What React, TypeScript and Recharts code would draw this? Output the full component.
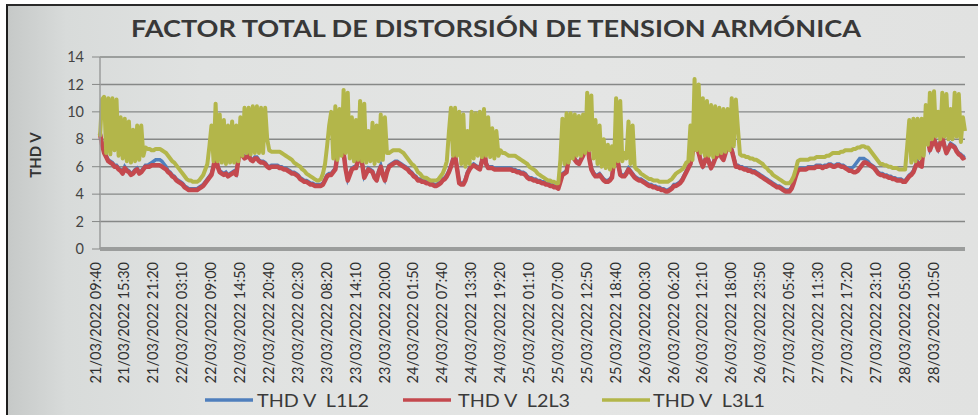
import React from 'react';
import { LineChart, Line, XAxis, YAxis, CartesianGrid } from 'recharts';

// Sampling: one point every 25 minutes starting 21/03/2022 09:40
const START_DAY = 21;
const START_MINUTE = 9 * 60 + 40;
const STEP_MINUTES = 25;
const LABEL_EVERY = 14; // one label every 5h50

const SERIES_NAMES = ['THD V  L1L2', 'THD V  L2L3', 'THD V  L3L1'];
const Y_TICKS = [0, 2, 4, 6, 8, 10, 12, 14];
const TITLE = 'FACTOR TOTAL DE DISTORSIÓN DE TENSION ARMÓNICA';
const Y_LABEL = 'THD V';

const L1L2 = [
  8.5, 7.7, 7.1, 6.8, 6.5, 6.4, 6.3, 6.1, 6.1, 5.9, 5.8, 5.6, 6.0, 5.8,
  5.7, 5.5, 5.6, 5.8, 5.9, 5.6, 5.7, 5.9, 6.1, 6.1, 6.2, 6.3, 6.4, 6.5,
  6.5, 6.5, 6.4, 6.2, 6.0, 5.7, 5.6, 5.4, 5.3, 5.1, 5.0, 4.9, 4.8, 4.6,
  4.5, 4.4, 4.4, 4.4, 4.4, 4.4, 4.5, 4.6, 4.7, 4.9, 5.1, 5.3, 5.5, 6.1,
  7.1, 6.1, 5.7, 5.6, 5.5, 5.6, 5.4, 5.5, 5.6, 5.7, 5.5, 6.6, 8.1, 6.9,
  6.7, 6.8, 6.9, 6.6, 6.5, 6.7, 6.7, 6.5, 6.4, 6.4, 6.3, 6.1, 6.0, 6.1,
  6.1, 6.1, 6.1, 6.0, 6.0, 5.9, 5.9, 5.8, 5.7, 5.6, 5.6, 5.5, 5.4, 5.2,
  5.1, 5.0, 5.0, 4.9, 4.8, 4.8, 4.7, 4.7, 4.7, 4.7, 4.8, 5.1, 5.4, 5.5,
  5.5, 5.7, 5.9, 6.9, 8.4, 7.7, 7.1, 5.9, 5.1, 5.5, 5.9, 6.0, 6.0, 6.6,
  7.9, 6.3, 5.3, 5.6, 5.9, 5.8, 5.7, 5.3, 5.1, 5.7, 6.1, 5.5, 5.1, 5.7,
  6.1, 6.2, 6.3, 6.4, 6.4, 6.3, 6.2, 6.1, 6.0, 5.9, 5.7, 5.6, 5.4, 5.3,
  5.1, 5.1, 5.0, 5.0, 4.9, 4.9, 4.8, 4.8, 4.7, 4.7, 4.8, 4.9, 5.1, 5.2,
  5.4, 5.7, 6.1, 6.6, 6.9, 5.9, 4.9, 4.8, 4.8, 5.1, 5.6, 5.9, 6.1, 6.2,
  6.1, 6.0, 5.9, 6.5, 7.4, 6.3, 6.0, 6.0, 6.0, 5.9, 5.9, 5.9, 5.9, 5.9,
  5.9, 5.9, 5.9, 5.9, 5.8, 5.8, 5.7, 5.7, 5.6, 5.6, 5.5, 5.3, 5.2, 5.2,
  5.1, 5.1, 5.0, 5.0, 4.9, 4.9, 4.8, 4.8, 4.7, 4.7, 4.6, 4.6, 4.5, 5.0,
  5.5, 5.6, 5.7, 6.7, 7.7, 7.0, 6.6, 6.4, 6.3, 6.6, 6.9, 7.3, 7.9, 6.7,
  5.9, 5.6, 5.4, 5.4, 5.5, 5.3, 5.1, 5.0, 5.0, 5.1, 5.3, 6.5, 7.9, 6.3,
  5.5, 5.4, 5.4, 5.6, 5.9, 5.7, 5.5, 5.3, 5.2, 5.1, 5.1, 5.0, 4.9, 4.8,
  4.7, 4.7, 4.6, 4.6, 4.5, 4.5, 4.4, 4.4, 4.3, 4.3, 4.4, 4.5, 4.7, 4.7,
  4.8, 4.9, 5.1, 5.4, 5.7, 6.0, 6.3, 7.1, 7.9, 7.5, 7.1, 6.5, 6.1, 6.5,
  6.9, 6.4, 6.0, 6.3, 6.7, 6.9, 7.1, 6.8, 6.6, 7.1, 7.6, 7.5, 7.3, 6.7,
  6.1, 6.1, 6.0, 6.0, 5.9, 5.9, 5.8, 5.8, 5.7, 5.7, 5.6, 5.5, 5.4, 5.3,
  5.2, 5.1, 5.0, 4.9, 4.8, 4.7, 4.6, 4.6, 4.5, 4.4, 4.3, 4.3, 4.3, 4.5,
  4.9, 5.4, 5.8, 5.9, 5.9, 5.9, 5.9, 6.0, 6.0, 6.0, 6.0, 6.1, 6.1, 6.1,
  6.0, 6.1, 6.1, 6.2, 6.2, 6.1, 6.1, 6.2, 6.2, 6.1, 6.1, 6.0, 5.9, 5.9,
  5.9, 6.0, 6.2, 6.4, 6.6, 6.6, 6.6, 6.5, 6.4, 6.2, 6.1, 6.0, 5.8, 5.6,
  5.5, 5.5, 5.4, 5.4, 5.3, 5.3, 5.2, 5.2, 5.1, 5.1, 5.1, 5.0, 5.0, 5.2,
  5.4, 5.5, 5.7, 6.1, 6.4, 6.2, 6.1, 7.6, 8.9, 8.1, 7.3, 7.7, 8.1, 7.7,
  7.3, 7.8, 8.2, 7.6, 7.1, 7.4, 7.7, 7.6, 7.5, 7.2, 7.0, 6.9, 6.7, 6.8,
];

const L2L3 = [
  8.4, 7.6, 7.0, 6.7, 6.4, 6.3, 6.2, 6.0, 6.0, 5.8, 5.7, 5.5, 5.9, 5.7,
  5.6, 5.4, 5.5, 5.7, 5.8, 5.5, 5.6, 5.8, 6.0, 6.0, 6.0, 6.1, 6.1, 6.1,
  6.1, 6.1, 6.0, 5.9, 5.8, 5.6, 5.5, 5.3, 5.2, 5.0, 4.9, 4.8, 4.7, 4.5,
  4.4, 4.3, 4.3, 4.3, 4.3, 4.3, 4.4, 4.5, 4.6, 4.8, 5.0, 5.2, 5.4, 6.0,
  7.0, 6.0, 5.6, 5.5, 5.4, 5.5, 5.3, 5.4, 5.5, 5.6, 5.4, 6.5, 8.0, 6.8,
  6.6, 6.7, 6.8, 6.5, 6.4, 6.6, 6.6, 6.4, 6.3, 6.3, 6.2, 6.0, 5.9, 6.0,
  6.0, 6.0, 6.0, 5.9, 5.9, 5.8, 5.8, 5.7, 5.6, 5.5, 5.5, 5.4, 5.3, 5.1,
  5.0, 4.9, 4.9, 4.8, 4.7, 4.7, 4.6, 4.6, 4.6, 4.6, 4.7, 5.0, 5.3, 5.4,
  5.4, 5.6, 5.8, 6.8, 8.3, 7.6, 7.0, 5.8, 5.0, 5.4, 5.8, 5.9, 5.9, 6.5,
  7.8, 6.2, 5.2, 5.5, 5.8, 5.7, 5.6, 5.2, 5.0, 5.6, 6.0, 5.4, 5.0, 5.6,
  6.0, 6.1, 6.2, 6.3, 6.3, 6.2, 6.1, 6.0, 5.9, 5.8, 5.6, 5.5, 5.3, 5.2,
  5.0, 5.0, 4.9, 4.9, 4.8, 4.8, 4.7, 4.7, 4.6, 4.6, 4.7, 4.8, 5.0, 5.1,
  5.3, 5.6, 6.0, 6.5, 6.8, 5.8, 4.8, 4.7, 4.7, 5.0, 5.5, 5.8, 6.0, 6.1,
  6.0, 5.9, 5.8, 6.4, 7.3, 6.2, 5.9, 5.9, 5.9, 5.8, 5.8, 5.8, 5.8, 5.8,
  5.8, 5.8, 5.8, 5.8, 5.7, 5.7, 5.6, 5.6, 5.5, 5.5, 5.4, 5.2, 5.1, 5.1,
  5.0, 5.0, 4.9, 4.9, 4.8, 4.8, 4.7, 4.7, 4.6, 4.6, 4.5, 4.5, 4.4, 4.9,
  5.4, 5.5, 5.6, 6.6, 7.6, 6.9, 6.5, 6.3, 6.2, 6.5, 6.8, 7.2, 7.8, 6.6,
  5.8, 5.5, 5.3, 5.3, 5.4, 5.2, 5.0, 4.9, 4.9, 5.0, 5.2, 6.4, 7.8, 6.2,
  5.4, 5.3, 5.3, 5.5, 5.8, 5.6, 5.4, 5.2, 5.1, 5.0, 5.0, 4.9, 4.8, 4.7,
  4.6, 4.6, 4.5, 4.5, 4.4, 4.4, 4.3, 4.3, 4.2, 4.2, 4.3, 4.4, 4.6, 4.6,
  4.7, 4.8, 5.0, 5.3, 5.6, 5.9, 6.2, 7.0, 7.8, 7.4, 7.0, 6.4, 6.0, 6.4,
  6.8, 6.3, 5.9, 6.2, 6.6, 6.8, 7.0, 6.7, 6.5, 7.0, 7.5, 7.4, 7.2, 6.6,
  6.0, 6.0, 5.9, 5.9, 5.8, 5.8, 5.7, 5.7, 5.6, 5.6, 5.5, 5.4, 5.3, 5.2,
  5.1, 5.0, 4.9, 4.8, 4.7, 4.6, 4.5, 4.5, 4.4, 4.3, 4.2, 4.2, 4.2, 4.4,
  4.8, 5.3, 5.7, 5.8, 5.8, 5.8, 5.8, 5.9, 5.9, 5.9, 5.9, 6.0, 6.0, 6.0,
  5.9, 6.0, 6.0, 6.1, 6.1, 6.0, 6.0, 6.1, 6.1, 6.0, 6.0, 5.9, 5.8, 5.7,
  5.7, 5.6, 5.6, 5.7, 5.9, 6.1, 6.3, 6.3, 6.2, 6.1, 6.0, 5.9, 5.7, 5.5,
  5.4, 5.4, 5.3, 5.3, 5.2, 5.2, 5.1, 5.1, 5.0, 5.0, 5.0, 4.9, 4.9, 5.1,
  5.3, 5.4, 5.6, 6.0, 6.3, 6.1, 6.0, 7.5, 8.8, 8.0, 7.2, 7.6, 8.0, 7.6,
  7.2, 7.7, 8.1, 7.5, 7.0, 7.3, 7.6, 7.5, 7.4, 7.1, 6.9, 6.8, 6.6, 6.7,
];

const L3L1 = [
  8.2, 10.9, 11.1, 7.0, 11.0, 6.9, 11.0, 7.2, 10.9, 6.8, 9.6, 6.6, 9.5, 6.4,
  9.3, 6.3, 8.7, 6.4, 9.0, 6.5, 9.0, 6.8, 7.4, 7.3, 7.3, 7.2, 7.2, 7.3,
  7.3, 7.3, 7.2, 7.1, 7.0, 6.8, 6.6, 6.4, 6.3, 6.1, 5.9, 5.7, 5.5, 5.3,
  5.1, 5.0, 5.0, 4.9, 4.9, 4.9, 5.0, 5.2, 5.4, 5.8, 6.2, 7.5, 9.0, 6.4,
  10.6, 6.4, 9.8, 6.3, 9.4, 6.2, 9.0, 6.3, 9.3, 6.3, 9.0, 6.4, 9.6, 6.8,
  10.3, 7.0, 10.3, 6.9, 10.4, 7.0, 10.4, 7.0, 10.3, 7.0, 10.3, 8.0, 7.2, 7.1,
  7.1, 7.1, 7.1, 7.1, 7.0, 6.9, 6.8, 6.7, 6.6, 6.5, 6.3, 6.2, 6.1, 6.0,
  5.8, 5.7, 5.5, 5.4, 5.3, 5.2, 5.1, 5.0, 5.0, 5.1, 5.5, 6.2, 7.5, 9.0,
  10.0, 6.6, 10.4, 6.5, 10.2, 6.8, 11.6, 7.0, 11.4, 6.6, 9.6, 6.4, 9.4, 6.5,
  10.8, 6.4, 10.6, 6.3, 8.6, 6.4, 9.2, 6.2, 9.0, 6.4, 9.8, 6.5, 9.6, 7.0,
  7.0, 7.1, 7.2, 7.2, 7.2, 7.2, 7.1, 7.0, 6.8, 6.6, 6.4, 6.2, 6.1, 5.9,
  5.6, 5.5, 5.3, 5.2, 5.2, 5.1, 5.0, 5.0, 5.0, 5.0, 5.1, 5.3, 5.5, 5.9,
  6.4, 8.5, 10.3, 6.8, 10.3, 6.8, 10.0, 6.2, 9.8, 6.0, 8.6, 6.2, 10.0, 6.6,
  9.9, 6.8, 10.0, 6.7, 10.2, 6.8, 9.6, 6.7, 8.8, 6.6, 8.6, 6.8, 7.2, 7.0,
  7.0, 6.9, 6.8, 6.8, 6.8, 6.8, 6.7, 6.6, 6.5, 6.4, 6.3, 6.2, 6.0, 5.9,
  5.8, 5.7, 5.5, 5.4, 5.3, 5.2, 5.1, 5.0, 5.0, 4.9, 4.9, 4.8, 4.8, 6.5,
  9.5, 6.2, 9.9, 6.3, 9.9, 6.6, 9.8, 6.8, 9.7, 6.8, 9.8, 7.0, 11.4, 7.2,
  11.2, 6.6, 9.4, 6.2, 9.0, 6.0, 8.0, 5.9, 7.6, 5.8, 7.5, 6.0, 11.0, 6.4,
  10.8, 6.4, 7.0, 6.6, 9.3, 6.2, 9.0, 6.0, 5.8, 5.7, 5.5, 5.4, 5.3, 5.2,
  5.1, 5.1, 5.0, 5.0, 5.0, 4.9, 4.9, 4.9, 4.9, 4.9, 5.0, 5.1, 5.3, 5.5,
  5.6, 5.7, 5.8, 6.0, 6.3, 6.4, 9.0, 6.5, 12.4, 7.2, 12.0, 7.0, 11.0, 6.8,
  10.8, 6.8, 10.5, 6.7, 10.4, 6.9, 10.3, 7.0, 10.2, 7.1, 10.2, 7.2, 11.0, 7.5,
  10.9, 8.8, 6.9, 6.8, 6.8, 6.7, 6.7, 6.6, 6.6, 6.5, 6.5, 6.4, 6.3, 6.2,
  6.0, 5.9, 5.7, 5.6, 5.4, 5.3, 5.2, 5.1, 5.0, 4.9, 4.8, 4.8, 4.8, 5.0,
  5.3, 5.8, 6.4, 6.5, 6.5, 6.5, 6.5, 6.5, 6.6, 6.6, 6.6, 6.7, 6.7, 6.7,
  6.7, 6.7, 6.8, 6.8, 6.9, 7.0, 7.0, 7.0, 7.0, 7.1, 7.1, 7.2, 7.2, 7.2,
  7.2, 7.3, 7.3, 7.4, 7.4, 7.5, 7.5, 7.4, 7.4, 7.2, 7.0, 6.8, 6.6, 6.4,
  6.2, 6.2, 6.1, 6.1, 6.0, 6.0, 5.9, 5.9, 5.9, 5.8, 5.8, 5.8, 5.8, 7.5,
  9.4, 6.3, 9.5, 6.4, 9.5, 6.6, 9.5, 6.8, 10.5, 7.6, 11.4, 8.0, 11.5, 8.2,
  10.0, 8.0, 11.4, 8.2, 11.3, 8.0, 10.2, 8.0, 11.4, 8.2, 11.3, 7.8, 9.6, 8.6,
];

const COLORS = ['#4f7fbd', '#c4494e', '#b3b64a'];

const pad = (n: number) => String(n).padStart(2, '0');
const TIMES = L3L1.map((_, i) => {
  const total = START_MINUTE + STEP_MINUTES * i;
  const day = START_DAY + Math.floor(total / 1440);
  const m = total % 1440;
  return `${pad(day)}/03/2022 ${pad(Math.floor(m / 60))}:${pad(m % 60)}`;
});

const data = TIMES.map((t, i) => ({ t, a: L1L2[i], b: L2L3[i], c: L3L1[i] }));

const FONT = 'Lato, "DejaVu Sans", sans-serif';

const XTick = (props: any) => {
  const { x, y, payload } = props;
  const tx = x - 5;
  const ty = y + 5;
  return (
    <text
      x={tx}
      y={ty}
      transform={`rotate(-90 ${tx} ${ty})`}
      textAnchor="end"
      dominantBaseline="central"
      fontFamily={FONT}
      fontSize={14.5}
      fill="#2f2f2f"
    >
      {payload.value}
    </text>
  );
};

export default function App() {
  return (
    <div
      style={{
        position: 'absolute',
        left: 0,
        top: 0,
        width: 978,
        height: 415,
        background: '#ffffff',
        overflow: 'hidden',
      }}
    >
      <div
        style={{
          position: 'absolute',
          left: 6,
          top: 4,
          width: 972,
          height: 411,
          borderLeft: '2px solid #1e1e1e',
          borderTop: '2px solid #2a2a2a',
          background:
            'linear-gradient(90deg, #c6c9c8 0%, #d8dbda 6%, #e0e2e1 20%, #e4e5e4 60%, #e1e2e1 100%)',
        }}
      />
      <div style={{ position: 'absolute', left: 0, top: 0 }}>
        <LineChart
          width={978}
          height={415}
          data={data}
          margin={{ top: 57, right: 13, bottom: 0, left: 0 }}
        >
          <CartesianGrid vertical={false} stroke="#868887" strokeWidth={1.4} />
          <XAxis
            dataKey="t"
            interval={LABEL_EVERY - 1}
            height={166}
            tick={<XTick />}
            tickLine={false}
            axisLine={{ stroke: '#9b9d9c', strokeWidth: 4 }}
          />
          <YAxis
            domain={[0, 14]}
            ticks={Y_TICKS}
            width={100}
            tickSize={8}
            tickMargin={8}
            tickLine={{ stroke: '#868887' }}
            axisLine={{ stroke: '#9b9d9c', strokeWidth: 1.5 }}
            tick={{ fontFamily: FONT, fontSize: 14.5, fill: '#444444' }}
          />
          <Line type="linear" dataKey="a" name={SERIES_NAMES[0]} stroke={COLORS[0]} strokeWidth={3.5} dot={false} isAnimationActive={false} />
          <Line type="linear" dataKey="b" name={SERIES_NAMES[1]} stroke={COLORS[1]} strokeWidth={4.5} strokeLinejoin="round" dot={false} isAnimationActive={false} />
          <Line type="linear" dataKey="c" name={SERIES_NAMES[2]} stroke={COLORS[2]} strokeWidth={4} strokeLinejoin="round" dot={false} isAnimationActive={false} />
        </LineChart>
      </div>
      <svg
        width={978}
        height={415}
        style={{ position: 'absolute', left: 0, top: 0, pointerEvents: 'none' }}
      >
        <text
          x={496}
          y={37}
          textAnchor="middle"
          fontFamily={FONT}
          fontWeight={700}
          fontSize={23}
          fill="#383838"
          textLength={730}
          lengthAdjust="spacingAndGlyphs"
        >
          {TITLE}
        </text>
        <text
          x={35}
          y={155}
          transform="rotate(-90 35 155)"
          textAnchor="middle"
          dominantBaseline="central"
          fontFamily={FONT}
          fontWeight={700}
          fontSize={15}
          fill="#333333"
        >
          {Y_LABEL}
        </text>
        {SERIES_NAMES.map((name, i) => {
          const lx = [205, 403, 602][i];
          const tx = [257, 458, 653][i];
          return (
            <g key={name}>
              <line x1={lx} x2={lx + 48} y1={400} y2={400} stroke={COLORS[i]} strokeWidth={3.5} />
              <text
                x={tx}
                y={400}
                dominantBaseline="central"
                fontFamily={FONT}
                fontSize={18}
                fill="#3a3a3a"
                style={{ whiteSpace: 'pre' }}
                textLength={112}
                lengthAdjust="spacingAndGlyphs"
              >
                {name}
              </text>
            </g>
          );
        })}
      </svg>
    </div>
  );
}
